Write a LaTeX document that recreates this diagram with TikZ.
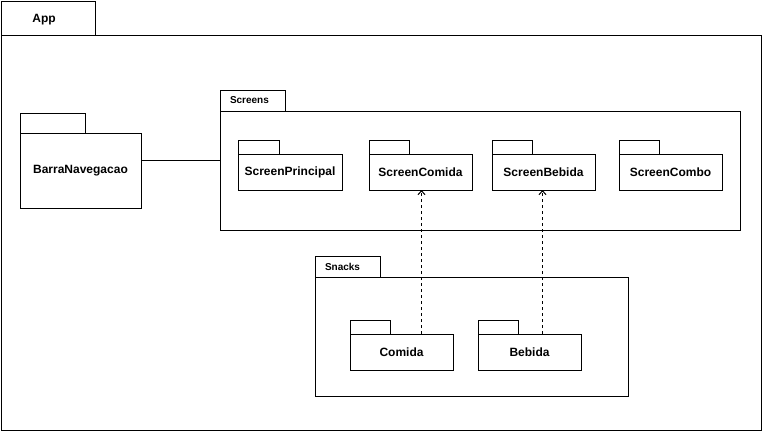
\documentclass[tikz,border=0pt]{standalone}
\usepackage{fontspec}
\setmainfont{Liberation Sans}
\usetikzlibrary{arrows.meta}
\begin{document}
\begin{tikzpicture}[x=1pt,y=-1pt,
  every node/.style={inner sep=0pt, outer sep=0pt},
  pkgbody/.style={draw, line width=1pt, fill=white, font=\fontsize{12}{14}\selectfont\bfseries},
  pkgtab/.style={draw, line width=1pt, fill=white, anchor=south west},
  biglabel/.style={font=\fontsize{12}{14}\selectfont\bfseries},
  smalllabel/.style={font=\fontsize{10}{12}\selectfont\bfseries},
  dep/.style={line width=1pt, dash pattern=on 3pt off 3pt, -{Straight Barb[length=4pt,width=7pt,line width=1pt]}}
]
\useasboundingbox (0,0) rectangle (762,432);
% App
\node[draw, line width=1pt, minimum width=760pt, minimum height=395pt, anchor=north west] (app) at (1,35) {};
\node[pkgtab, minimum width=94pt, minimum height=34pt] (apptab) at (app.north west) {};
\node[biglabel] (applbl) at ([xshift=-4pt,yshift=-2pt]apptab.center) {App};
% BarraNavegacao
\node[pkgbody, minimum width=121pt, minimum height=75pt, anchor=north west] (barra) at (20,133) {BarraNavegacao};
\node[pkgtab, minimum width=65pt, minimum height=20pt] (barratab) at (barra.north west) {};
% Screens
\node[draw, line width=1pt, minimum width=520pt, minimum height=119pt, anchor=north west] (screens) at (220,111) {};
\node[pkgtab, minimum width=65pt, minimum height=21pt] (screenstab) at (screens.north west) {};
\node[smalllabel, anchor=west] (screenslbl) at ([xshift=10pt]screenstab.west) {Screens};
% inner screens
\node[pkgbody, minimum width=104pt, minimum height=36pt, anchor=north west] (sp) at (238,154) {ScreenPrincipal};
\node[pkgtab, minimum width=41pt, minimum height=14pt] (sptab) at (sp.north west) {};
\node[pkgbody, minimum width=103pt, minimum height=36pt, anchor=north west] (sc) at (369,154) {ScreenComida};
\node[pkgtab, minimum width=40pt, minimum height=14pt] (sctab) at (sc.north west) {};
\node[pkgbody, minimum width=103pt, minimum height=36pt, anchor=north west] (sb) at (492,154) {ScreenBebida};
\node[pkgtab, minimum width=40pt, minimum height=14pt] (sbtab) at (sb.north west) {};
\node[pkgbody, minimum width=103pt, minimum height=36pt, anchor=north west] (sco) at (619,154) {ScreenCombo};
\node[pkgtab, minimum width=40pt, minimum height=14pt] (scotab) at (sco.north west) {};
% Snacks
\node[draw, line width=1pt, minimum width=313pt, minimum height=119pt, anchor=north west] (snacks) at (315,277) {};
\node[pkgtab, minimum width=65pt, minimum height=21pt] (snackstab) at (snacks.north west) {};
\node[smalllabel, anchor=west] (snackslbl) at ([xshift=10pt]snackstab.west) {Snacks};
\node[pkgbody, minimum width=103pt, minimum height=36pt, anchor=north west] (com) at (350,334) {Comida};
\node[pkgtab, minimum width=40pt, minimum height=14pt] (comtab) at (com.north west) {};
\node[pkgbody, minimum width=103pt, minimum height=36pt, anchor=north west] (beb) at (478,334) {Bebida};
\node[pkgtab, minimum width=40pt, minimum height=14pt] (bebtab) at (beb.north west) {};
% connectors
\draw[line width=1pt] (barra.east |- 0,160) -- (screens.west |- 0,160);
\draw[dep] ([xshift=20pt]com.north) -- ([xshift=20pt]com.north |- sc.south);
\draw[dep] ([xshift=13pt]beb.north) -- ([xshift=13pt]beb.north |- sb.south);
\end{tikzpicture}
\end{document}
